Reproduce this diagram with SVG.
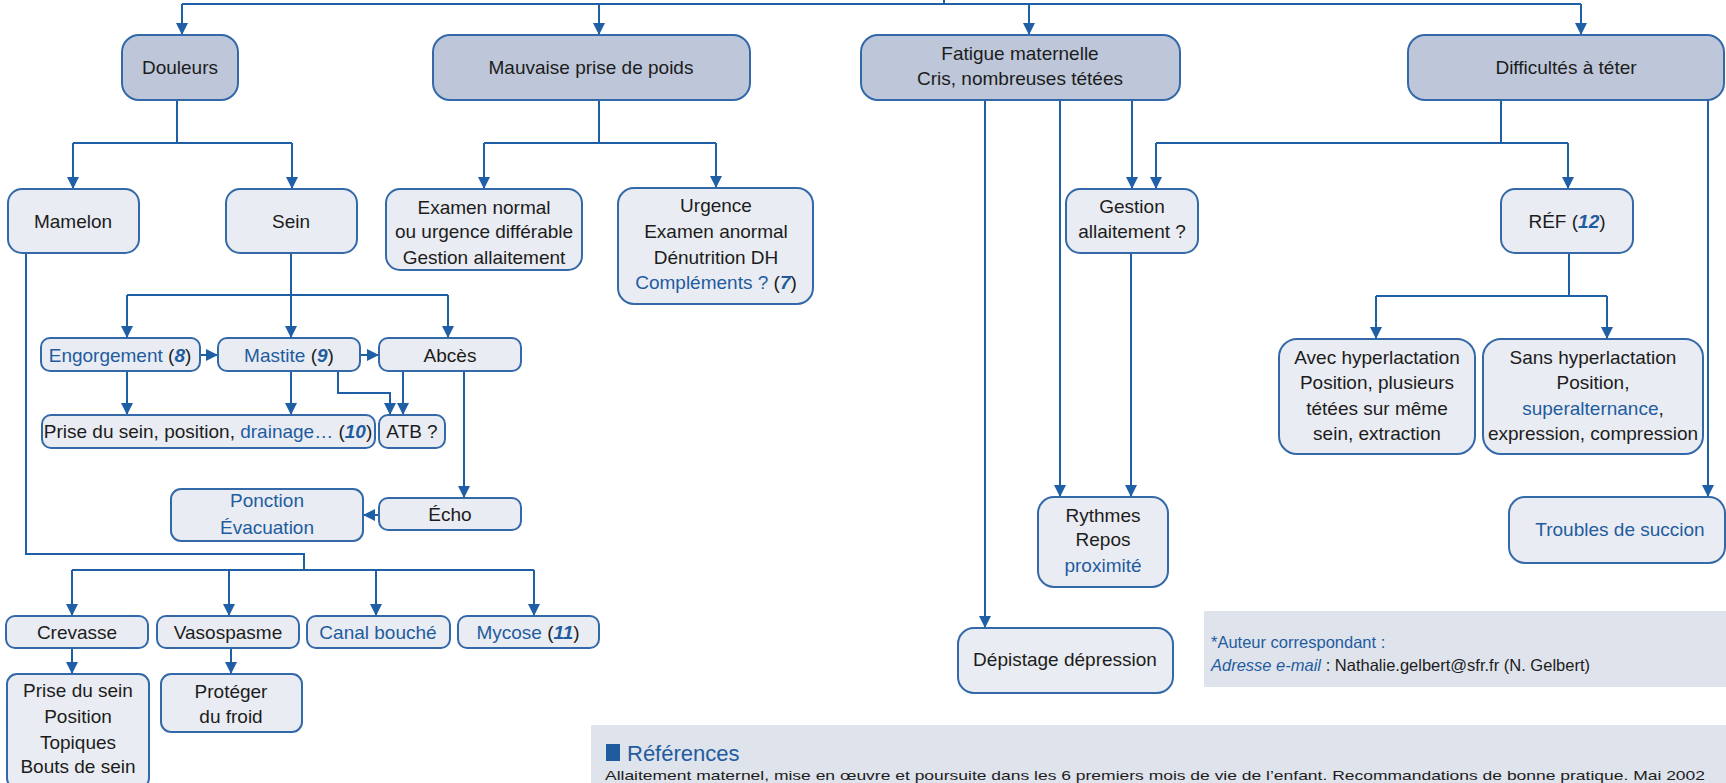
<svg xmlns="http://www.w3.org/2000/svg" width="1726" height="783" viewBox="0 0 1726 783">
<style>
text{font-family:"Liberation Sans",Arial,sans-serif;font-size:19px;fill:#1c1c1c;text-anchor:middle}
.hd{fill:#bdc7d9;stroke:#3469a9;stroke-width:2}
.bx{fill:#e9ecf2;stroke:#3469a9;stroke-width:2}
.b{fill:#1f5c9f}
.n{fill:#1f5c9f;font-weight:bold;font-style:italic}
.c{fill:none;stroke:#1f5fa5;stroke-width:2}
.a{marker-end:url(#ar)}
.panel{fill:#dfe3ec}
</style>
<defs>
<marker id="ar" markerUnits="userSpaceOnUse" markerWidth="12" markerHeight="12" refX="11" refY="6" orient="auto">
<path d="M0,0 L12,6 L0,12 z" fill="#1f5fa5"/>
</marker>
</defs>

<g id="connectors">
<path class="c" d="M182,4 H1581 M944,0 V4"/>
<path class="c a" d="M182,4 V34"/>
<path class="c a" d="M599,4 V34"/>
<path class="c a" d="M1029,4 V34"/>
<path class="c a" d="M1581,4 V34"/>
<path class="c" d="M177,100 V143 M73,143 H292"/>
<path class="c a" d="M73,143 V188"/>
<path class="c a" d="M292,143 V188"/>
<path class="c" d="M599,100 V143 M484,143 H716"/>
<path class="c a" d="M484,143 V188"/>
<path class="c a" d="M716,143 V187"/>
<path class="c a" d="M985,100 V627"/>
<path class="c a" d="M1060,100 V496"/>
<path class="c a" d="M1132,100 V188"/>
<path class="c" d="M1501,100 V143 M1156,143 H1568"/>
<path class="c a" d="M1156,143 V188"/>
<path class="c a" d="M1568,143 V188"/>
<path class="c a" d="M1708,100 V496"/>
<path class="c a" d="M1131,253 V496"/>
<path class="c" d="M1569,253 V296 M1376,296 H1607"/>
<path class="c a" d="M1376,296 V338"/>
<path class="c a" d="M1607,296 V338"/>
<path class="c a" d="M291,253 V337"/>
<path class="c" d="M127,295 H448"/>
<path class="c a" d="M127,295 V337"/>
<path class="c a" d="M448,295 V337"/>
<path class="c a" d="M200,355 H217"/>
<path class="c a" d="M360,355 H378"/>
<path class="c a" d="M127,371 V414"/>
<path class="c a" d="M291,371 V414"/>
<path class="c a" d="M338,371 V393 H390 V414"/>
<path class="c a" d="M403,371 V414"/>
<path class="c a" d="M464,371 V497"/>
<path class="c a" d="M379,515 H364"/>
<path class="c" d="M26,253 V554 H304 V570 M72,570 H534"/>
<path class="c a" d="M72,570 V615"/>
<path class="c a" d="M229,570 V615"/>
<path class="c a" d="M376,570 V615"/>
<path class="c a" d="M534,570 V615"/>
<path class="c a" d="M72,648 V673"/>
<path class="c a" d="M231,648 V673"/>
</g>

<g id="douleurs"><rect class="hd" x="122" y="35" width="116" height="65" rx="17"/><text x="180" y="74">Douleurs</text></g>
<g id="mauvaise"><rect class="hd" x="433" y="35" width="317" height="65" rx="17"/><text x="591" y="74">Mauvaise prise de poids</text></g>
<g id="fatigue"><rect class="hd" x="861" y="35" width="319" height="65" rx="17"/><text x="1020" y="60">Fatigue maternelle</text><text x="1020" y="85">Cris, nombreuses tétées</text></g>
<g id="difficultes"><rect class="hd" x="1408" y="35" width="316" height="65" rx="17"/><text x="1566" y="74">Difficultés à téter</text></g>

<g id="mamelon"><rect class="bx" x="8" y="189" width="131" height="64" rx="14"/><text x="73" y="228">Mamelon</text></g>
<g id="sein"><rect class="bx" x="226" y="189" width="131" height="64" rx="14"/><text x="291" y="228">Sein</text></g>
<g id="examen-normal"><rect class="bx" x="386" y="189" width="196" height="81" rx="14"/><text x="484" y="214">Examen normal</text><text x="484" y="238">ou urgence différable</text><text x="484" y="264">Gestion allaitement</text></g>
<g id="urgence"><rect class="bx" x="618" y="188" width="195" height="116" rx="16"/><text x="716" y="212">Urgence</text><text x="716" y="238">Examen anormal</text><text x="716" y="264">Dénutrition DH</text><text x="716" y="289"><tspan class="b">Compléments ?</tspan> (<tspan class="n">7</tspan>)</text></g>
<g id="gestion"><rect class="bx" x="1066" y="189" width="132" height="64" rx="14"/><text x="1132" y="213">Gestion</text><text x="1132" y="238">allaitement ?</text></g>
<g id="ref"><rect class="bx" x="1501" y="189" width="132" height="64" rx="14"/><text x="1567" y="228">RÉF (<tspan class="n">12</tspan>)</text></g>

<g id="engorgement"><rect class="bx" x="41" y="338" width="159" height="33" rx="9"/><text x="120" y="362"><tspan class="b">Engorgement</tspan> (<tspan class="n">8</tspan>)</text></g>
<g id="mastite"><rect class="bx" x="218" y="338" width="142" height="33" rx="9"/><text x="289" y="362"><tspan class="b">Mastite</tspan> (<tspan class="n">9</tspan>)</text></g>
<g id="abces"><rect class="bx" x="379" y="338" width="142" height="33" rx="9"/><text x="450" y="362">Abcès</text></g>
<g id="prise-drainage"><rect class="bx" x="42" y="415" width="333" height="33" rx="9"/><text x="208" y="438">Prise du sein, position, <tspan class="b">drainage…</tspan> (<tspan class="n">10</tspan>)</text></g>
<g id="atb"><rect class="bx" x="379" y="415" width="66" height="33" rx="9"/><text x="412" y="438">ATB ?</text></g>
<g id="echo"><rect class="bx" x="379" y="498" width="142" height="32" rx="9"/><text x="450" y="521">Écho</text></g>
<g id="ponction"><rect class="bx" x="171" y="489" width="192" height="52" rx="10"/><text x="267" y="507" class="b">Ponction</text><text x="267" y="534" class="b">Évacuation</text></g>

<g id="crevasse"><rect class="bx" x="6" y="616" width="142" height="32" rx="9"/><text x="77" y="639">Crevasse</text></g>
<g id="vasospasme"><rect class="bx" x="157" y="616" width="142" height="32" rx="9"/><text x="228" y="639">Vasospasme</text></g>
<g id="canal"><rect class="bx" x="307" y="616" width="143" height="32" rx="9"/><text x="378" y="639" class="b">Canal bouché</text></g>
<g id="mycose"><rect class="bx" x="458" y="616" width="141" height="32" rx="9"/><text x="528" y="639"><tspan class="b">Mycose</tspan> (<tspan class="n">11</tspan>)</text></g>
<g id="prise-crevasse"><rect class="bx" x="7" y="674" width="142" height="114" rx="10"/><text x="78" y="697">Prise du sein</text><text x="78" y="723">Position</text><text x="78" y="749">Topiques</text><text x="78" y="773">Bouts de sein</text></g>
<g id="proteger"><rect class="bx" x="161" y="674" width="141" height="58" rx="10"/><text x="231" y="698">Protéger</text><text x="231" y="723">du froid</text></g>

<g id="avec"><rect class="bx" x="1279" y="339" width="196" height="115" rx="18"/><text x="1377" y="364">Avec hyperlactation</text><text x="1377" y="389">Position, plusieurs</text><text x="1377" y="415">tétées sur même</text><text x="1377" y="440">sein, extraction</text></g>
<g id="sans"><rect class="bx" x="1483" y="339" width="220" height="115" rx="18"/><text x="1593" y="364">Sans hyperlactation</text><text x="1593" y="389">Position,</text><text x="1593" y="415"><tspan class="b">superalternance</tspan>,</text><text x="1593" y="440">expression, compression</text></g>
<g id="rythmes"><rect class="bx" x="1038" y="497" width="130" height="90" rx="16"/><text x="1103" y="522">Rythmes</text><text x="1103" y="546">Repos</text><text x="1103" y="572" class="b">proximité</text></g>
<g id="troubles"><rect class="bx" x="1509" y="497" width="216" height="66" rx="16"/><text x="1620" y="536" class="b">Troubles de succion</text></g>
<g id="depistage"><rect class="bx" x="958" y="628" width="215" height="65" rx="16"/><text x="1065" y="666">Dépistage dépression</text></g>

<g id="author">
<rect class="panel" x="1204" y="611" width="522" height="76"/>
<text x="1211" y="648" style="text-anchor:start;font-size:16.5px" class="b">*Auteur correspondant :</text>
<text x="1211" y="671" style="text-anchor:start;font-size:16.5px"><tspan class="b" style="font-style:italic">Adresse e-mail</tspan> : Nathalie.gelbert@sfr.fr (N. Gelbert)</text>
</g>
<g id="references">
<rect class="panel" x="591" y="725" width="1135" height="58"/>
<rect x="606" y="744" width="14" height="17" fill="#1f5c9f"/>
<text x="627" y="761" style="text-anchor:start;font-size:22px" class="b">Références</text>
<text x="605" y="780" style="text-anchor:start;font-size:13px" textLength="1100" lengthAdjust="spacingAndGlyphs">Allaitement maternel, mise en œuvre et poursuite dans les 6 premiers mois de vie de l’enfant. Recommandations de bonne pratique. Mai 2002</text>
</g>
</svg>
